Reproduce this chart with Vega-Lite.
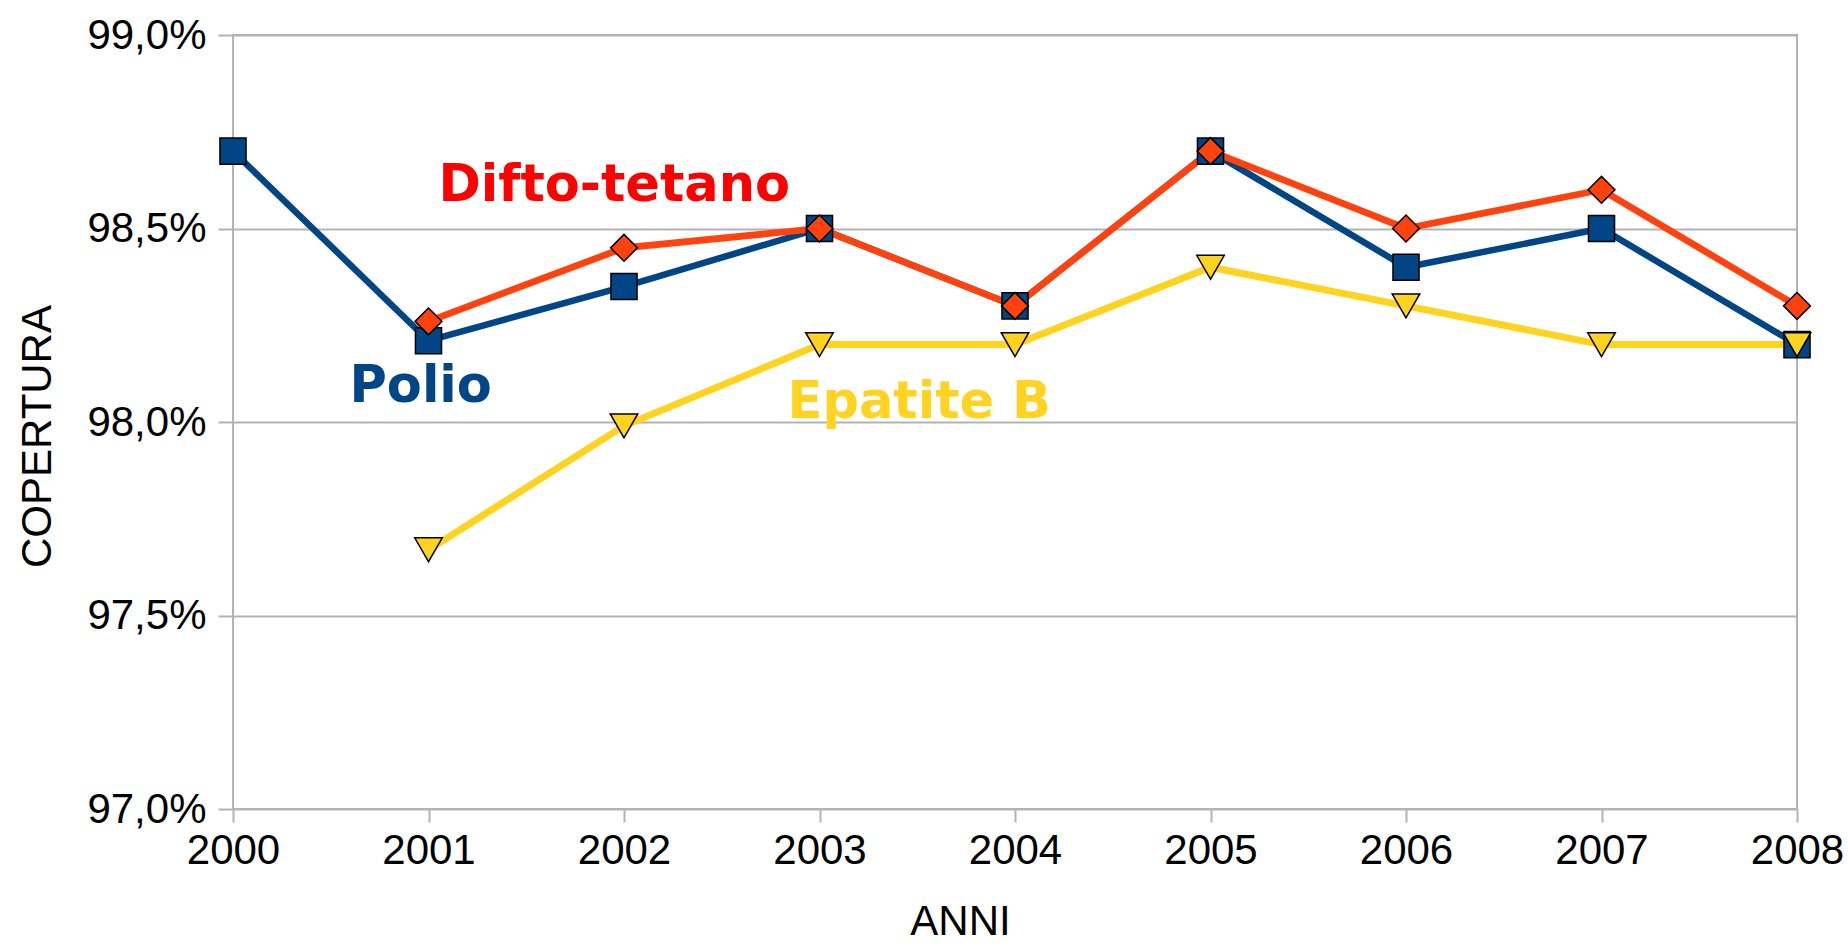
{
  "$schema": "https://vega.github.io/schema/vega-lite/v6.json",
  "width": 1564,
  "height": 774,
  "autosize": {"type": "none"},
  "padding": {"left": 233, "top": 35, "right": 51, "bottom": 136},
  "background": "white",
  "config": {
    "view": {"stroke": "#b3b3b3", "strokeWidth": 2},
    "font": "Liberation Sans"
  },
  "datasets": {
    "series": [
      {"serie": "Polio", "anno": 2000, "copertura": 98.7},
      {"serie": "Polio", "anno": 2001, "copertura": 98.21},
      {"serie": "Polio", "anno": 2002, "copertura": 98.35},
      {"serie": "Polio", "anno": 2003, "copertura": 98.5},
      {"serie": "Polio", "anno": 2004, "copertura": 98.3},
      {"serie": "Polio", "anno": 2005, "copertura": 98.7},
      {"serie": "Polio", "anno": 2006, "copertura": 98.4},
      {"serie": "Polio", "anno": 2007, "copertura": 98.5},
      {"serie": "Polio", "anno": 2008, "copertura": 98.2},
      {"serie": "Difto-tetano", "anno": 2001, "copertura": 98.26},
      {"serie": "Difto-tetano", "anno": 2002, "copertura": 98.45},
      {"serie": "Difto-tetano", "anno": 2003, "copertura": 98.5},
      {"serie": "Difto-tetano", "anno": 2004, "copertura": 98.3},
      {"serie": "Difto-tetano", "anno": 2005, "copertura": 98.7},
      {"serie": "Difto-tetano", "anno": 2006, "copertura": 98.5},
      {"serie": "Difto-tetano", "anno": 2007, "copertura": 98.6},
      {"serie": "Difto-tetano", "anno": 2008, "copertura": 98.3},
      {"serie": "Epatite B", "anno": 2001, "copertura": 97.67},
      {"serie": "Epatite B", "anno": 2002, "copertura": 97.99},
      {"serie": "Epatite B", "anno": 2003, "copertura": 98.2},
      {"serie": "Epatite B", "anno": 2004, "copertura": 98.2},
      {"serie": "Epatite B", "anno": 2005, "copertura": 98.4},
      {"serie": "Epatite B", "anno": 2006, "copertura": 98.3},
      {"serie": "Epatite B", "anno": 2007, "copertura": 98.2},
      {"serie": "Epatite B", "anno": 2008, "copertura": 98.2}
    ],
    "labels": [
      {"serie": "Difto-tetano", "anno": 2001.95, "copertura": 98.61},
      {"serie": "Polio", "anno": 2000.96, "copertura": 98.09},
      {"serie": "Epatite B", "anno": 2003.51, "copertura": 98.05}
    ]
  },
  "encoding": {
    "x": {
      "field": "anno",
      "type": "quantitative",
      "scale": {"domain": [2000, 2008], "nice": false, "zero": false},
      "axis": {
        "title": "ANNI",
        "values": [2000, 2001, 2002, 2003, 2004, 2005, 2006, 2007, 2008],
        "format": "d",
        "grid": false,
        "domain": false,
        "tickColor": "#b3b3b3",
        "tickWidth": 2,
        "tickSize": 13,
        "labelPadding": 8,
        "labelFontSize": 42,
        "labelColor": "black",
        "labelOverlap": false,
        "labelFlush": false,
        "titleFontSize": 42,
        "titleFontWeight": "normal",
        "titleColor": "black",
        "titleX": 727,
        "titleY": 125,
        "titleBaseline": "alphabetic"
      }
    },
    "y": {
      "field": "copertura",
      "type": "quantitative",
      "scale": {"domain": [97, 99], "nice": false, "zero": false},
      "axis": {
        "title": "COPERTURA",
        "values": [97, 97.5, 98, 98.5, 99],
        "labelExpr": "replace(format(datum.value, '.1f'), '.', ',') + '%'",
        "grid": true,
        "gridColor": "#b3b3b3",
        "gridWidth": 2,
        "domain": false,
        "tickColor": "#b3b3b3",
        "tickWidth": 2,
        "tickSize": 15,
        "labelPadding": 12,
        "labelFontSize": 42,
        "labelColor": "black",
        "titleFontSize": 42,
        "titleFontWeight": "normal",
        "titleColor": "black",
        "titleX": -183,
        "titleY": 401,
        "titleBaseline": "alphabetic",
        "titleAngle": -90
      }
    }
  },
  "layer": [
    {
      "data": {"name": "series"},
      "mark": {"type": "line", "strokeJoin": "miter"},
      "encoding": {
        "color": {
          "field": "serie",
          "type": "nominal",
          "scale": {"domain": ["Polio", "Difto-tetano", "Epatite B"], "range": ["#004586", "#ff420e", "#ffd320"]},
          "legend": null
        },
        "strokeWidth": {
          "field": "serie",
          "type": "nominal",
          "scale": {"domain": ["Polio", "Difto-tetano", "Epatite B"], "range": [6.5, 7, 8.5]},
          "legend": null
        },
        "order": {"field": "anno"}
      }
    },
    {
      "data": {"name": "series"},
      "mark": {"type": "point", "filled": true, "opacity": 1, "stroke": "black", "strokeWidth": 1.5},
      "encoding": {
        "fill": {
          "field": "serie",
          "type": "nominal",
          "scale": {"domain": ["Polio", "Difto-tetano", "Epatite B"], "range": ["#004586", "#ff420e", "#ffd320"]},
          "legend": null
        },
        "shape": {
          "field": "serie",
          "type": "nominal",
          "scale": {"domain": ["Polio", "Difto-tetano", "Epatite B"], "range": ["square", "diamond", "triangle-down"]},
          "legend": null
        },
        "size": {
          "field": "serie",
          "type": "nominal",
          "scale": {"domain": ["Polio", "Difto-tetano", "Epatite B"], "range": [680, 760, 720]},
          "legend": null
        }
      }
    },
    {
      "data": {"name": "labels"},
      "mark": {"type": "text", "font": "DejaVu Sans", "fontWeight": "bold", "fontSize": 51, "baseline": "middle", "align": "center"},
      "encoding": {
        "text": {"field": "serie"},
        "color": {
          "field": "serie",
          "type": "nominal",
          "scale": {"domain": ["Polio", "Difto-tetano", "Epatite B"], "range": ["#004586", "#ff0000", "#ffd320"]},
          "legend": null
        }
      }
    }
  ],
  "resolve": {"scale": {"color": "independent"}}
}
